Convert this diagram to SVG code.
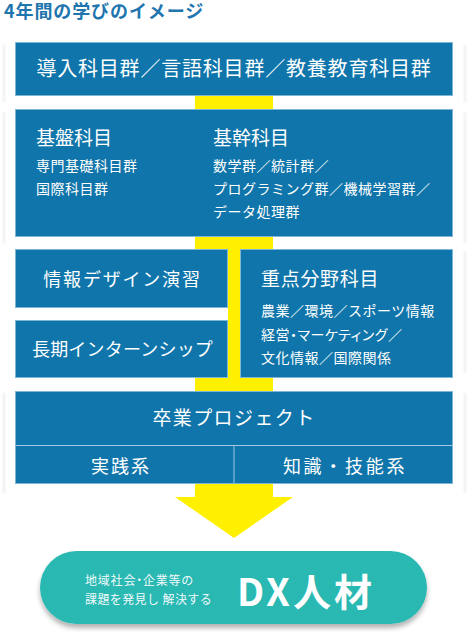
<svg xmlns="http://www.w3.org/2000/svg" width="468" height="633" viewBox="0 0 468 633">
<defs>
<style>
.box{fill:#0f75aa;stroke:#7fb5d6;stroke-width:1}
.t{font-family:"Noto Sans CJK JP","Noto Sans",sans-serif;fill:#ffffff}
.h{font-size:19px}
.s{font-size:14px;letter-spacing:0.5px}
.m{font-size:18px}
.c{text-anchor:middle}
.p{font-feature-settings:"palt"}
.y{fill:#fff000}
.sh{fill:#ececec}
.dv{stroke:#9fc8e2;stroke-width:1;fill:none}
</style>
<filter id="blur" x="-50%" y="-10%" width="200%" height="120%"><feGaussianBlur stdDeviation="1"/></filter>
<filter id="pillsh" x="-10%" y="-20%" width="120%" height="150%"><feDropShadow dx="0" dy="4" stdDeviation="2.5" flood-color="#000" flood-opacity="0.3"/></filter>
</defs>
<rect width="468" height="633" fill="#ffffff"/>
<g id="shadows" filter="url(#blur)">
<rect class="sh" x="3" y="45" width="2" height="57"/>
<rect class="sh" x="464" y="45" width="2" height="57"/>
<rect class="sh" x="3" y="112" width="2" height="131"/>
<rect class="sh" x="464" y="112" width="2" height="131"/>
<rect class="sh" x="464" y="251" width="2" height="122"/>
<rect class="sh" x="3" y="393" width="2" height="100"/>
<rect class="sh" x="464" y="393" width="2" height="100"/>
</g>
<text id="title" x="4" y="18" font-family="'Noto Sans CJK JP','Noto Sans',sans-serif" font-size="18" font-weight="bold" letter-spacing="0.9" fill="#1f75ae">4年間の学びのイメージ</text>
<g id="connectors">
<rect class="y" x="195" y="96" width="78" height="14"/>
<rect class="y" x="195" y="237" width="78" height="12"/>
<rect class="y" x="228" y="237" width="12" height="154"/>
<rect class="y" x="195" y="377" width="78" height="14"/>
<rect class="y" x="195" y="484" width="78" height="14"/>
<polygon class="y" points="175,497 293,497 234,538"/>
</g>
<g id="intro">
<rect class="box" x="15.5" y="42.5" width="437" height="53"/>
<text class="t c" x="234" y="76" font-size="20" letter-spacing="0.8">導入科目群／言語科目群／教養教育科目群</text>
</g>
<g id="basic">
<rect class="box" x="15.5" y="109.5" width="437" height="127"/>
<text class="t h" x="36" y="145">基盤科目</text>
<text class="t s" x="36" y="171">専門基礎科目群</text>
<text class="t s" x="36" y="194">国際科目群</text>
<text class="t h" x="213" y="145">基幹科目</text>
<text class="t s" x="213" y="171">数学群／統計群／</text>
<text class="t s" x="213" y="194" letter-spacing="0.3">プログラミング群／機械学習群／</text>
<text class="t s" x="213" y="217">データ処理群</text>
</g>
<g id="design">
<rect class="box" x="15.5" y="249.5" width="212" height="58"/>
<text class="t m c" x="122.5" y="286" letter-spacing="1.8">情報デザイン演習</text>
</g>
<g id="intern">
<rect class="box" x="15.5" y="320.5" width="212" height="57"/>
<text class="t m c" x="122.5" y="356" letter-spacing="0.2">長期インターンシップ</text>
</g>
<g id="focus">
<rect class="box" x="240.5" y="249.5" width="212" height="128"/>
<text class="t h" x="261" y="286" letter-spacing="0.7">重点分野科目</text>
<text class="t s" x="261" y="316">農業／環境／スポーツ情報</text>
<text class="t s p" x="261" y="340">経営・マーケティング／</text>
<text class="t s" x="261" y="363">文化情報／国際関係</text>
</g>
<g id="graduation">
<rect class="box" x="15.5" y="391.5" width="437" height="92"/>
<line class="dv" x1="16" y1="445.5" x2="452" y2="445.5"/>
<line class="dv" x1="234" y1="446" x2="234" y2="483"/>
<text class="t c" x="234" y="425" font-size="19" letter-spacing="1.4">卒業プロジェクト</text>
<text class="t m c" x="121" y="473" letter-spacing="2">実践系</text>
<text class="t m c" x="345" y="473" letter-spacing="2.7">知識・技能系</text>
</g>
<g id="dx">
<rect x="40" y="551" width="387" height="73" rx="36.5" fill="#2cb8b3" filter="url(#pillsh)"/>
<text class="t p" x="85" y="585" font-size="12" letter-spacing="0.8" fill-opacity="0.95">地域社会・企業等の</text>
<text class="t" x="85" y="604" font-size="12" letter-spacing="0.4" fill-opacity="0.95">課題を発見し 解決する</text>
<text class="t" x="237" y="606" font-size="38" font-weight="bold" letter-spacing="3">DX人材</text>
</g>
</svg>
